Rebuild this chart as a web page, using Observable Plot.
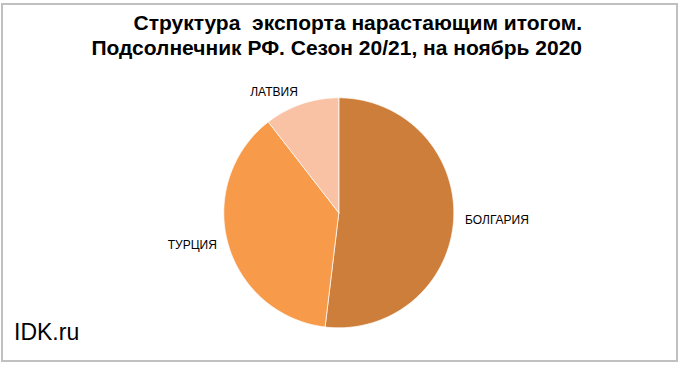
<!DOCTYPE html>
<html>
<head>
<meta charset="utf-8">
<script src="https://cdn.jsdelivr.net/npm/d3@7"></script>
<script src="https://cdn.jsdelivr.net/npm/@observablehq/plot@0.6"></script>
<style>
  html, body { margin: 0; padding: 0; background: #fff; }
  #wrap { position: relative; width: 680px; height: 367px; overflow: hidden; font-family: "Liberation Sans", Arial, sans-serif; }
  #frame { position: absolute; left: 1px; top: 3px; width: 673px; height: 355px; border: 2px solid #c0c0c0; box-sizing: content-box; }
  #title { position: absolute; right: 98px; top: 10px; text-align: right; font-weight: bold; font-size: 21px; line-height: 25px; color: #000; white-space: pre; }
  #src { position: absolute; left: 14px; top: 319px; font-size: 23px; color: #000; }
  #chart { position: absolute; left: 0; top: 0; }
</style>
</head>
<body>
<div id="wrap">
  <div id="frame"></div>
  <div id="chart"></div>
  <div id="title">Структура  экспорта нарастающим итогом.
Подсолнечник РФ. Сезон 20/21, на ноябрь 2020</div>
  <div id="src">IDK.ru</div>
</div>
<script>
const countries = ["БОЛГАРИЯ", "ТУРЦИЯ", "ЛАТВИЯ"];
const shares = [51.9, 37.6, 10.5];
const colors = ["#CD7E3A", "#F79A4A", "#F9C2A5"];

const rows = countries.map((c, i) => ({name: c, value: shares[i]}));
const arcs = d3.pie().sort(null).value(d => d.value)(rows);

// polygon outline for each slice in unit coordinates
const pts = [];
for (const a of arcs) {
  const n = Math.max(2, Math.ceil((a.endAngle - a.startAngle) / (Math.PI / 360)));
  pts.push({name: a.data.name, x: 0, y: 0});
  for (let k = 0; k <= n; k++) {
    const t = a.startAngle + (a.endAngle - a.startAngle) * k / n;
    pts.push({name: a.data.name, x: Math.sin(t), y: Math.cos(t)});
  }
  pts.push({name: a.data.name, x: 0, y: 0});
}
const labels = arcs.map(a => {
  const m = (a.startAngle + a.endAngle) / 2;
  return {name: a.data.name, x: 1.1 * Math.sin(m), y: 1.1 * Math.cos(m), side: Math.sin(m) >= 0 ? "R" : "L"};
});

const chart = Plot.plot({
  width: 680,
  height: 367,
  margin: 0,
  x: {domain: [-1, 1], range: [223.3, 453.3], axis: null},
  y: {domain: [-1, 1], range: [327.3, 97.3], axis: null},
  color: {domain: countries, range: colors},
  style: {background: "transparent", fontFamily: "Liberation Sans, Arial, sans-serif"},
  marks: [
    Plot.line(pts, {x: "x", y: "y", z: "name", fill: "name", stroke: "#ffffff", strokeWidth: 0.8, strokeOpacity: 0.9, curve: "linear"}),
    Plot.text(labels.filter(d => d.side === "R"), {x: "x", y: "y", text: "name", textAnchor: "start", fontSize: 12, fill: "#000"}),
    Plot.text(labels.filter(d => d.side === "L"), {x: "x", y: "y", text: "name", textAnchor: "end", fontSize: 12, fill: "#000", dy: -1})
  ]
});
document.getElementById("chart").appendChild(chart);
</script>
</body>
</html>
